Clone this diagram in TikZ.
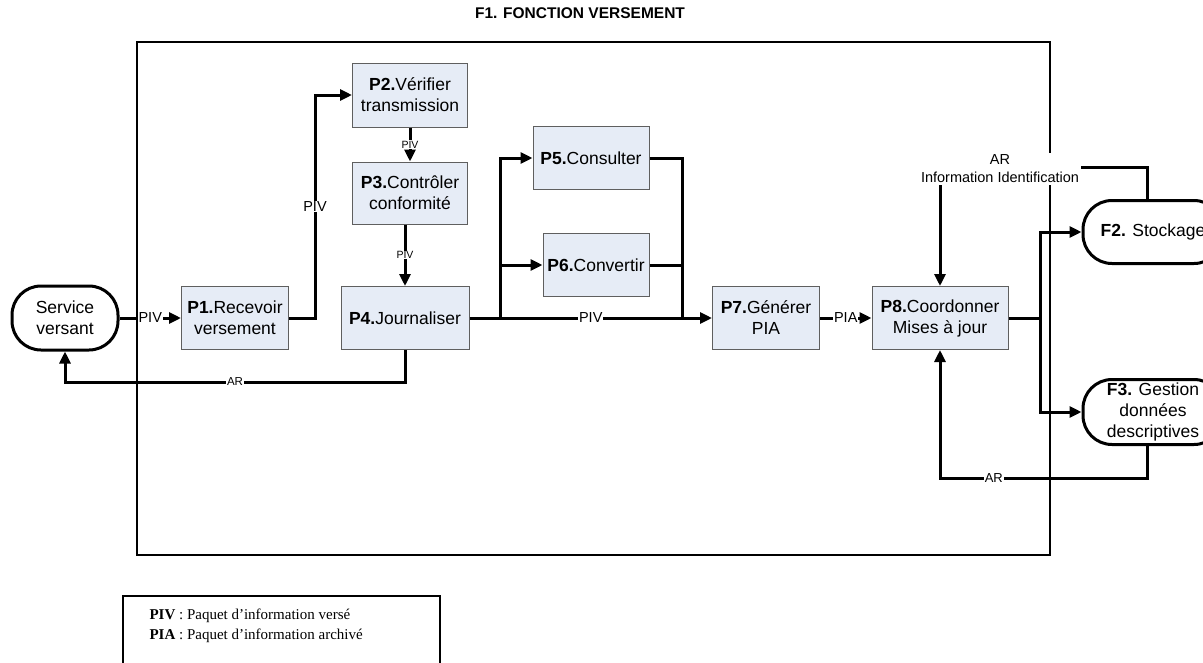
\documentclass[tikz,border=0pt]{standalone}
\usepackage{fontspec}
\setmainfont{Liberation Sans}
\newfontfamily\legendfont{Liberation Serif}
\usetikzlibrary{arrows.meta,positioning}
\definecolor{procfill}{RGB}{230,236,246}
\definecolor{procline}{RGB}{95,95,95}

\begin{document}
\begin{tikzpicture}[x=1pt, y=-1pt, line width=3pt,
    >={Triangle[length=12pt,width=11pt]}]
    \tikzstyle{proc} = [draw=procline, line width=1pt, fill=procfill, rectangle,
    align=center, inner sep=1pt, minimum height=63pt, font=\fontsize{17.5}{21}\selectfont]
    \tikzstyle{func} = [draw, fill=white, line width=3pt, rectangle, rounded corners=29pt,
    align=center, inner sep=0pt, minimum height=64pt, font=\fontsize{17.5}{21}\selectfont]
    \tikzstyle{lbl} = [fill=white, inner sep=1pt, font=\fontsize{14.5}{17}\selectfont]
    \tikzstyle{lblsmall} = [fill=white, inner sep=0.5pt, font=\fontsize{10.5}{12}\selectfont]
    \useasboundingbox (0,0) rectangle (1203,662);
    % cadre de la fonction F1
    \node [font=\bfseries\fontsize{15.5}{18}\selectfont] (title) at (580,13) {F1. FONCTION VERSEMENT};
    \draw [line width=2.5pt] (137,42) rectangle (1050,555);
    % processus
    \node [func, minimum width=106pt] (serv) at (65,318) {Service\\versant};
    \node [proc, minimum width=107pt] (p1) at (235,318) {\textbf{P1.}Recevoir\\versement};
    \node [proc, minimum width=115pt, minimum height=64pt] (p2) at (410,95) {\textbf{P2.}Vérifier\\transmission};
    \node [proc, minimum width=115pt, minimum height=62pt] (p3) at (410,193) {\textbf{P3.}Contrôler\\conformité};
    \node [proc, minimum width=128pt] (p4) at (405,318) {\textbf{P4.}Journaliser};
    \node [proc, minimum width=116pt] (p5) at (591,158) {\textbf{P5.}Consulter};
    \node [proc, minimum width=106pt] (p6) at (596,265) {\textbf{P6.}Convertir};
    \node [proc, minimum width=107pt] (p7) at (766,318) {\textbf{P7.}Générer\\PIA};
    \node [proc, minimum width=136pt] (p8) at (940,318) {\textbf{P8.}Coordonner\\Mises à jour};
    \node [func, minimum width=140pt, minimum height=63pt] (f2) at (1153,232) {\textbf{F2.} Stockage};
    \node [func, minimum width=140pt, minimum height=65pt] (f3) at (1153,412) {\textbf{F3.} Gestion\\données\\descriptives};
    % flux
    \draw [->] (serv) -- node[lbl]{PIV} (p1);
    \draw [->] (p1.east) -- ++(26,0) |- node[lbl, pos=0.25]{PIV} (p2.west);
    \draw [->] (p2) -- node[lblsmall]{PIV} (p3);
    \draw [->] (p4.north |- p3.south) -- node[lblsmall]{PIV} (p4.north);
    \draw [->] (p4.south) -- ++(0,32) -| node[lbl, font=\fontsize{11.5}{13}\selectfont, pos=0.25]{AR} (serv.south);
    \coordinate (branch) at (500,318);
    \coordinate (join) at (682,318);
    \draw [->] (p4) -- node[lbl]{PIV} (p7);
    \draw [->] (branch) |- (p5);
    \draw [->] (branch |- p6) -- (p6);
    \draw (p5) -| (join);
    \draw (p6) -- (p6 -| join);
    \draw [->] (p7) -- node[lbl]{PIA} (p8);
    \coordinate (split) at (1040,318);
    \draw (p8) -- (split);
    \draw [->] (split) |- (f2);
    \draw [->] (split) |- (f3);
    \draw [->] (f2.north -| 1147,0) -- ++(0,-32) -| (p8.north);
    \draw [->] (f3.south -| 1147,0) -- ++(0,32) -| node[lbl, font=\fontsize{13}{15}\selectfont, pos=0.37]{AR} (p8.south);
    \node [lbl, align=center, inner sep=2pt, font=\fontsize{14.5}{18}\selectfont] (arinfo) at (1000,169) {AR\\Information Identification};
    % legende
    \draw [line width=1.3pt] (123,596) rectangle (440,700);
    \node [anchor=north west, align=left, inner sep=0pt, font=\legendfont\fontsize{15}{20}\selectfont] (legend) at (148,607)
        {\textbf{PIV} : Paquet d’information versé\\\textbf{PIA} : Paquet d’information archivé};
\end{tikzpicture}
\end{document}
